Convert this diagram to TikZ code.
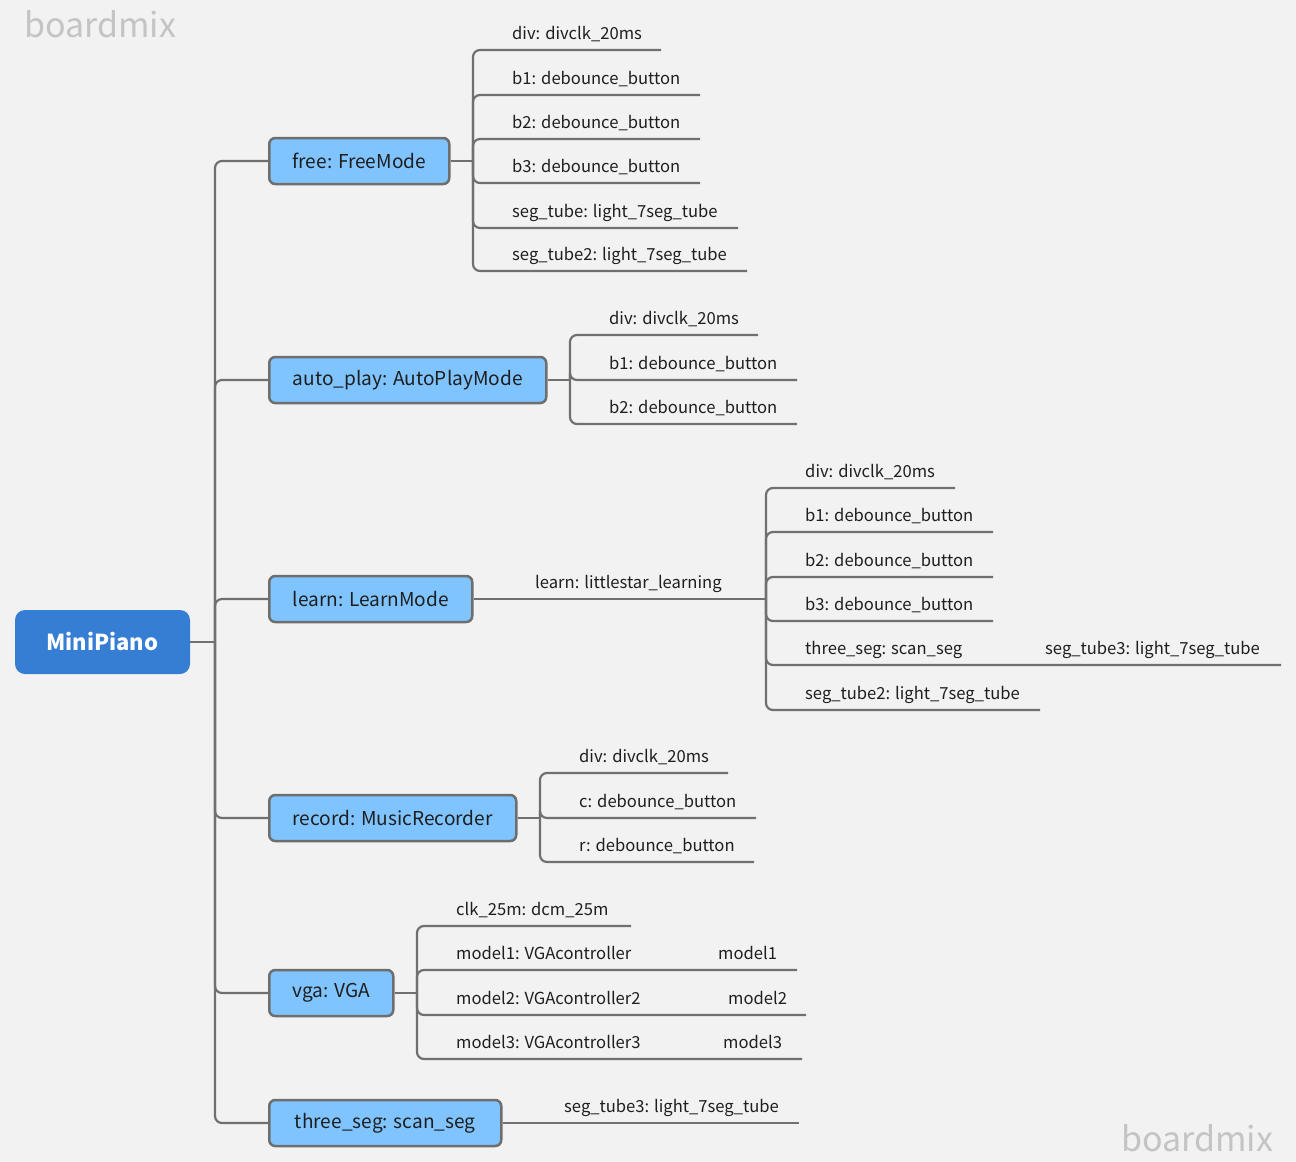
\documentclass[tikz,border=0pt]{standalone}
\usepackage{fontspec}
\setmainfont{Noto Sans CJK SC}
\begin{document}
\definecolor{bgc}{HTML}{F2F2F2}
\definecolor{linec}{HTML}{707070}
\definecolor{bordc}{HTML}{6E6E6E}
\definecolor{nodec}{HTML}{80C4FF}
\definecolor{rootc}{HTML}{367DD4}
\definecolor{markc}{HTML}{C4C4C4}
\definecolor{txtc}{HTML}{1E1E1E}
\begin{tikzpicture}[x=1pt,y=-1pt,
  conn/.style={draw=linec, line width=2.2pt, rounded corners=7pt},
  leaf/.style={anchor=base west, inner sep=0pt, font=\fontsize{16.6}{20}\selectfont, text=txtc},
  branch/.style={draw=bordc, line width=2.5pt, fill=nodec, rounded corners=6pt, anchor=west,
     minimum height=46pt, font=\fontsize{19.1}{24}\selectfont, text=txtc, inner sep=0pt},
  mark/.style={anchor=west, inner sep=0pt, font=\fontsize{34}{40}\selectfont, text=markc}]
\useasboundingbox (0,0) rectangle (1296,1162);
\fill[bgc] (0,0) rectangle (1296,1162);
\node[anchor=west,inner sep=0pt,font=\fontsize{34}{40}\selectfont,text=markc] (wm1) at (24,24) {boardmix};
\node[anchor=west,inner sep=0pt,font=\fontsize{34}{40}\selectfont,text=markc] (wm2) at (1121,1138) {boardmix};

% root
\node[fill=rootc, rounded corners=10pt, minimum width=175pt, minimum height=64pt, inner sep=0pt,
  text=white, font=\fontsize{22}{26}\selectfont\bfseries] (root) at (102.5,642) {MiniPiano};
\coordinate (rT) at (215,642);

% branches
\node[branch, minimum width=180pt] (free) at (268,161) {free: FreeMode};
\node[branch, minimum width=277pt] (auto) at (268,380) {auto\_play: AutoPlayMode};
\node[branch, minimum width=203pt] (learn) at (268,599) {learn: LearnMode};
\node[branch, minimum width=247pt] (record) at (268,818) {record: MusicRecorder};
\node[branch, minimum width=124pt] (vga) at (268,993) {vga: VGA};
\node[branch, minimum width=232pt] (three) at (268,1123) {three\_seg: scan\_seg};

\draw[conn] (root.east) -- (rT);
\foreach \b in {free,auto,learn,record,vga,three}{
  \draw[conn] (rT) |- (\b.west);
}

% free leaves
\coordinate (fT) at (473,161);
\draw[conn,rounded corners=0pt] (free.east) -- (fT);
\node[leaf] (f1) at (512,39) {div: divclk\_20ms};
\node[leaf] (f2) at (512,84) {b1: debounce\_button};
\node[leaf] (f3) at (512,128) {b2: debounce\_button};
\node[leaf] (f4) at (512,172) {b3: debounce\_button};
\node[leaf] (f5) at (512,217) {seg\_tube: light\_7seg\_tube};
\node[leaf] (f6) at (512,260) {seg\_tube2: light\_7seg\_tube};
\coordinate (f1e) at (661,50);
\coordinate (f2e) at (700,95);
\coordinate (f3e) at (700,139);
\coordinate (f4e) at (700,183);
\coordinate (f5e) at (738,228);
\coordinate (f6e) at (747,271);
\foreach \e in {f1e,f2e,f3e,f4e,f5e,f6e}{ \draw[conn] (fT) |- (\e); }

% auto leaves
\coordinate (aT) at (570,380);
\draw[conn,rounded corners=0pt] (auto.east) -- (aT);
\node[leaf] (a1) at (609,324) {div: divclk\_20ms};
\node[leaf] (a2) at (609,369) {b1: debounce\_button};
\node[leaf] (a3) at (609,413) {b2: debounce\_button};
\coordinate (a1e) at (758,335);
\coordinate (a2e) at (797,380);
\coordinate (a3e) at (797,424);
\foreach \e in {a1e,a2e,a3e}{ \draw[conn] (aT) |- (\e); }

% learn leaves
\coordinate (lT) at (766,599);
\node[leaf] (l0) at (535,588) {learn: littlestar\_learning};
\draw[conn,rounded corners=0pt] (learn.east) -- (lT);
\node[leaf] (l1) at (805,477) {div: divclk\_20ms};
\node[leaf] (l2) at (805,521) {b1: debounce\_button};
\node[leaf] (l3) at (805,566) {b2: debounce\_button};
\node[leaf] (l4) at (805,610) {b3: debounce\_button};
\node[leaf] (l5) at (805,654) {three\_seg: scan\_seg};
\node[leaf] (l6) at (805,699) {seg\_tube2: light\_7seg\_tube};
\node[leaf] (l7) at (1045,654) {seg\_tube3: light\_7seg\_tube};
\coordinate (l1e) at (955,488);
\coordinate (l2e) at (993,532);
\coordinate (l3e) at (993,577);
\coordinate (l4e) at (993,621);
\coordinate (l5e) at (1025,665);
\coordinate (l6e) at (1040,710);
\coordinate (l7e) at (1281,665);
\foreach \e in {l1e,l2e,l3e,l4e,l6e}{ \draw[conn] (lT) |- (\e); }
\draw[conn] (lT) |- (l5e) -- (l7e);

% record leaves
\coordinate (rcT) at (540,818);
\draw[conn,rounded corners=0pt] (record.east) -- (rcT);
\node[leaf] (r1) at (579,762) {div: divclk\_20ms};
\node[leaf] (r2) at (579,807) {c: debounce\_button};
\node[leaf] (r3) at (579,851) {r: debounce\_button};
\coordinate (r1e) at (728,773);
\coordinate (r2e) at (756,818);
\coordinate (r3e) at (754,862);
\foreach \e in {r1e,r2e,r3e}{ \draw[conn] (rcT) |- (\e); }

% vga leaves
\coordinate (vT) at (417,993);
\draw[conn,rounded corners=0pt] (vga.east) -- (vT);
\node[leaf] (v1) at (456,915) {clk\_25m: dcm\_25m};
\node[leaf] (v2) at (456,959) {model1: VGAcontroller};
\node[leaf] (v3) at (456,1004) {model2: VGAcontroller2};
\node[leaf] (v4) at (456,1048) {model3: VGAcontroller3};
\node[leaf] (v5) at (718,959) {model1};
\node[leaf] (v6) at (728,1004) {model2};
\node[leaf] (v7) at (723,1048) {model3};
\coordinate (v1e) at (631,926);
\coordinate (v2e) at (698,970);
\coordinate (v3e) at (708,1015);
\coordinate (v4e) at (703,1059);
\coordinate (v5e) at (797,970);
\coordinate (v6e) at (806,1015);
\coordinate (v7e) at (802,1059);
\draw[conn] (vT) |- (v1e);
\draw[conn] (vT) |- (v2e) -- (v5e);
\draw[conn] (vT) |- (v3e) -- (v6e);
\draw[conn] (vT) |- (v4e) -- (v7e);

% three_seg leaf
\node[leaf] (t1) at (564,1112) {seg\_tube3: light\_7seg\_tube};
\coordinate (t1e) at (799,1123);
\draw[conn] (three.east) -- (t1e);
\end{tikzpicture}
\end{document}
